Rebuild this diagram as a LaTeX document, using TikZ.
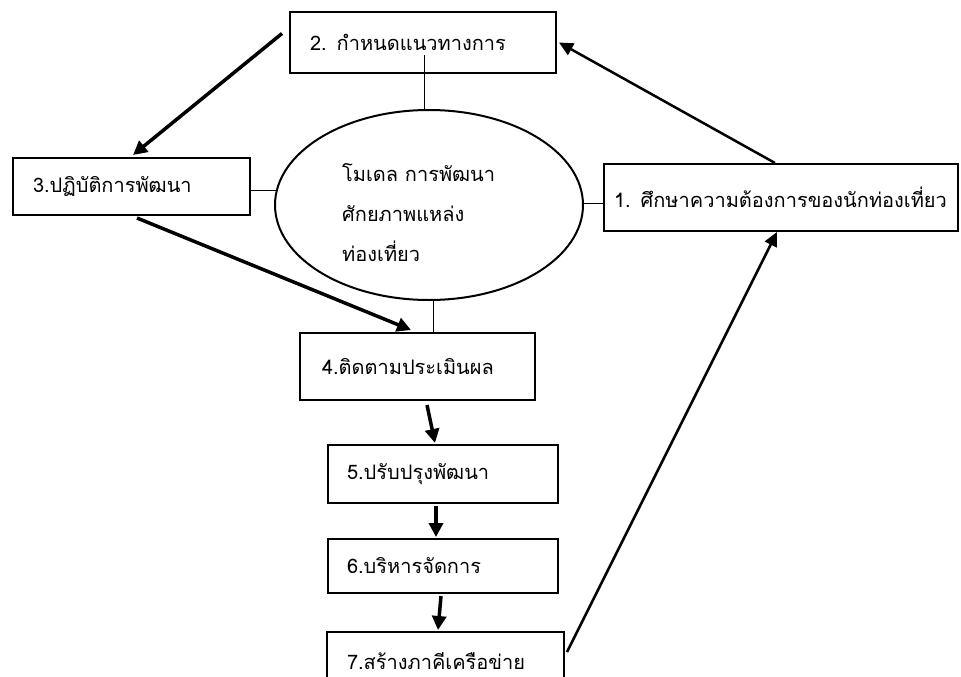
\documentclass[tikz,border=0pt]{standalone}
\usepackage{fontspec}
\setmainfont{Loma}[Script=Thai]
\usetikzlibrary{arrows.meta,calc,shapes.geometric}
\tikzset{
  boxnode/.style={draw=black,line width=2pt,fill=white,rectangle,inner xsep=0pt,inner ysep=0pt,font=\fontsize{20}{24}\selectfont},
  thinline/.style={draw=black,line width=1pt},
  flow/.style={draw=black,line width=3.5pt,-{Triangle[length=14pt,width=14pt]}},
  flowthin/.style={draw=black,line width=2.5pt,-{Triangle[length=14pt,width=13pt]}}
}
\begin{document}
\begin{tikzpicture}[x=1pt,y=-1pt]
\clip (0,0) rectangle (961,677);
\fill[white] (0,0) rectangle (961,677);
% ellipse
\node[draw=black,line width=2pt,fill=white,ellipse,minimum width=308pt,minimum height=190pt,inner sep=0pt] (e) at (429,205) {};
\node[anchor=west,align=left,inner sep=0pt,font=\fontsize{20}{40}\selectfont] (et) at (342,213) {โมเดล การพัฒนา\\ศักยภาพแหล่ง\\ท่องเที่ยว};
% boxes
\node[boxnode,minimum width=266pt,minimum height=61pt,text width=226pt,align=left] (b2) at (423,42.5) {2. กำหนดแนวทางการ};
\node[boxnode,minimum width=237pt,minimum height=57pt,text width=197pt,align=left] (b3) at (131.5,186.5) {3.ปฏิบัติการพัฒนา};
\node[boxnode,minimum width=354pt,minimum height=67pt,text width=334pt,align=left] (b1) at (781,197.5) {1. ศึกษาความต้องการของนักท่องเที่ยว};
\node[boxnode,minimum width=235pt,minimum height=67pt,text width=191pt,align=left] (b4) at (417.5,366.5) {4.ติดตามประเมินผล};
\node[boxnode,minimum width=230pt,minimum height=58pt,text width=192pt,align=left] (b5) at (443,474) {5.ปรับปรุงพัฒนา};
\node[boxnode,minimum width=230pt,minimum height=54pt,text width=192pt,align=left] (b6) at (443,566) {6.บริหารจัดการ};
\node[boxnode,minimum width=237pt,minimum height=58pt,text width=197pt,align=left] (b7) at (445.5,661) {7.สร้างภาคีเครือข่าย};
% thin connectors to the ellipse
\coordinate (c2) at (424,55);
\draw[thinline] (c2) -- (e.north -| c2);
\draw[thinline] ($(b3.east)+(0,3.5)$) -- ($(e.west)+(2,-15)$);
\draw[thinline] ($(e.east)+(0,-2)$) -- ($(b1.west)+(0,5.5)$);
\draw[thinline] ($(e.south)+(4,0)$) -- ($(b4.north)+(15.5,0)$);
% flow arrows
\draw[flow] ($(b2.west)+(-7,-9)$) -- ($(b3.north)+(1.5,-2)$);
\draw[flowthin] ($(b1.north)+(-6,0)$) -- ($(b2.east)+(2,0)$);
\draw[flow] ($(b3.south)+(5.5,2)$) -- ($(b4.north)+(-6.5,-2)$);
\draw[flow] ($(b4.south)+(9.5,4)$) -- ($(b5.north)+(-8,-1)$);
\draw[flow] ($(b5.south)+(-7,2)$) -- ($(b6.north)+(-7,-1)$);
\draw[flow] ($(b6.south)+(-2,2)$) -- ($(b7.north)+(-7.5,-1)$);
\draw[flowthin] ($(b7.east)+(2,-9)$) -- ($(b1.south)+(-4,0)$);
\end{tikzpicture}
\end{document}
